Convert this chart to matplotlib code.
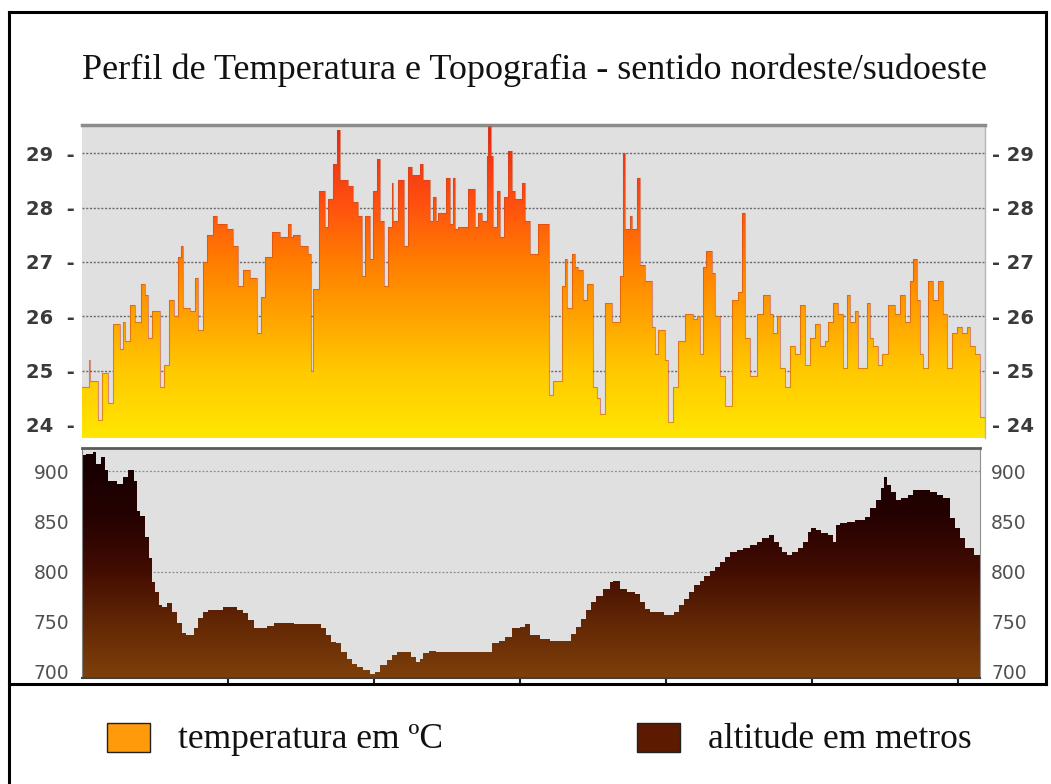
import numpy as np
import matplotlib.pyplot as plt
from matplotlib.colors import LinearSegmentedColormap
from matplotlib.lines import Line2D
from matplotlib.patches import Rectangle

temp_dist = [0, 7, 8, 16, 20, 26, 31, 38, 41, 43, 48, 53, 59, 63, 66, 70, 78, 82, 87, 92,
             96, 99, 101, 108, 113, 116, 121, 125, 131, 135, 145, 151, 156, 161, 168, 175, 179, 183, 190, 198,
             206, 209, 211, 218, 226, 229, 231, 237, 243, 246, 251, 255, 258, 266, 271, 276, 280, 283, 288, 291,
             295, 298, 302, 306, 310, 311, 316, 322, 326, 330, 338, 341, 348, 351, 354, 356, 364, 368, 371, 373,
             376, 386, 393, 396, 400, 405, 406, 409, 411, 415, 418, 422, 426, 430, 433, 440, 443, 448, 456, 467,
             471, 480, 483, 485, 490, 493, 496, 501, 505, 511, 515, 518, 523, 530, 538, 541, 543, 548, 550, 555,
             558, 563, 570, 573, 576, 583, 586, 591, 596, 603, 611, 615, 618, 621, 624, 630, 633, 638, 643, 650,
             656, 660, 663, 668, 675, 681, 688, 691, 695, 698, 703, 708, 713, 718, 723, 728, 733, 738, 743, 746,
             751, 756, 761, 765, 768, 773, 776, 785, 788, 791, 796, 800, 806, 813, 818, 823, 828, 831, 835, 838,
             841, 846, 851, 856, 861, 865, 870, 875, 880, 885, 888, 893, 898]
temp_c = [24.7, 25.2, 24.8, 24.1, 24.95, 24.4, 25.85, 25.4, 25.9, 25.55, 26.2, 25.9, 26.6, 26.4, 25.6, 26.1, 24.7, 25.1, 26.3, 26.0,
          27.1, 27.3, 26.15, 26.1, 26.7, 25.75, 27.0, 27.5, 27.85, 27.7, 27.6, 27.3, 26.55, 26.85, 26.7, 25.7, 26.35, 27.1, 27.55, 27.45,
          27.7, 27.45, 27.5, 27.3, 27.15, 25.0, 26.5, 28.3, 27.65, 28.15, 28.8, 29.43, 28.5, 28.4, 28.1, 27.85, 26.75, 27.85, 27.05, 28.3,
          28.9, 27.75, 26.55, 27.65, 28.45, 27.75, 28.5, 27.3, 28.75, 28.6, 28.8, 28.5, 27.75, 28.2, 27.75, 27.9, 28.55, 27.7, 28.55, 27.6,
          27.65, 28.35, 27.65, 27.9, 27.75, 28.95, 29.5, 28.95, 27.65, 28.3, 27.45, 28.2, 29.05, 28.3, 28.15, 28.45, 27.75, 27.15, 27.7, 24.55,
          24.8, 26.55, 27.05, 26.15, 27.15, 26.9, 26.85, 26.3, 26.6, 24.7, 24.5, 24.2, 26.25, 25.9, 26.75, 29.0, 27.6, 27.85, 27.6, 28.55,
          26.95, 26.65, 25.8, 25.3, 25.75, 25.2, 24.05, 24.7, 25.55, 26.05, 25.95, 26.0, 25.3, 26.9, 27.2, 26.8, 26.0, 24.9, 24.35, 26.3,
          26.45, 27.9, 25.6, 24.9, 26.05, 26.4, 26.05, 25.7, 26.0, 25.05, 24.7, 25.45, 25.3, 26.2, 25.1, 25.6, 25.85, 25.45, 25.55, 25.9,
          26.25, 26.05, 25.05, 26.4, 25.9, 26.1, 25.05, 26.25, 25.6, 25.45, 25.1, 25.3, 26.2, 26.05, 26.4, 25.9, 26.65, 27.05, 26.3, 25.3,
          25.05, 26.65, 26.3, 26.65, 26.05, 25.05, 25.7, 25.8, 25.7, 25.8, 25.45, 25.3, 24.15]
temp_end = 903

alt_dist = [0, 4, 11, 14, 19, 23, 26, 35, 41, 46, 52, 55, 58, 63, 67, 70, 73, 77, 80, 85,
            90, 95, 100, 104, 112, 116, 121, 126, 141, 155, 161, 166, 172, 185, 192, 212, 239, 244, 249, 254,
            259, 265, 270, 275, 281, 288, 293, 298, 305, 310, 315, 329, 334, 338, 341, 347, 354, 378, 398, 410,
            417, 423, 430, 438, 443, 448, 458, 468, 489, 494, 499, 504, 509, 514, 521, 528, 531, 538, 545, 553,
            558, 563, 568, 582, 592, 597, 602, 607, 612, 618, 622, 628, 633, 638, 643, 648, 655, 661, 668, 675,
            680, 687, 692, 697, 700, 705, 710, 716, 721, 726, 729, 734, 739, 746, 751, 754, 758, 765, 773, 783,
            788, 794, 799, 802, 805, 809, 814, 819, 826, 831, 848, 855, 861, 868, 873, 878, 883, 892]
alt_m = [915.7, 917, 919, 907, 914, 900.7, 890.6, 887, 894, 900.7, 890.6, 860.5, 855.5, 834, 813.7, 790, 780, 767, 765, 768.5,
         760, 748.5, 738.5, 737, 743.5, 753.5, 760, 762, 765, 762, 758.5, 752, 743.5, 746, 748.5, 747.5, 743.5, 737, 730, 728.4,
         720, 713.4, 708.4, 705, 701.7, 698, 700, 706.7, 711.7, 716.7, 720, 715, 710, 713, 718.5, 720.7, 720, 719.4, 720, 728.4,
         730.8, 735, 743.5, 745, 748, 736.5, 733, 730.6, 738, 745, 753, 761.5, 770, 776, 783, 790, 791, 783, 780, 778,
         770, 763, 760, 756.5, 760, 766.5, 773, 780, 786.5, 791, 796, 801, 804.7, 809.6, 814.6, 819.6, 821, 823, 826, 829.6,
         833, 836, 829.6, 824.6, 819.6, 816, 819.6, 823, 829.6, 839.5, 843.5, 841, 838, 836, 829.6, 846, 848, 849.5, 851, 854.5,
         863, 871, 882.7, 894.4, 886, 879.4, 871, 873, 876, 881, 879.4, 876, 873, 853, 843, 833, 823, 816]
alt_end = 898

temp_ticks = [24, 25, 26, 27, 28, 29]
alt_ticks = [700, 750, 800, 850, 900]
dist_ticks = [146, 292, 438, 584, 730, 876]

titulo = "Perfil de Temperatura e Topografia - sentido nordeste/sudoeste"
legenda = ["temperatura em ºC", "altitude em metros"]

W, H = 1051, 784
fig = plt.figure(figsize=(W / 100, H / 100), dpi=100)


def box(l, t, r, b):
    return [l / W, 1 - b / H, (r - l) / W, (b - t) / H]


def gradient_fill(ax, dist, vals, end, ylim, cmap):
    x = np.array(dist + [end])
    y = np.array(vals + [vals[-1]])
    poly = ax.fill_between(x, ylim[0], y, step='post', facecolor='none', edgecolor='none')
    grad = np.linspace(ylim[0], ylim[1], 256).reshape(-1, 1)
    im = ax.imshow(grad, extent=[0, end, ylim[0], ylim[1]], origin='lower',
                   aspect='auto', cmap=cmap, zorder=2)
    im.set_clip_path(poly.get_paths()[0], transform=ax.transData)
    ax.set_xlim(0, end)
    ax.set_ylim(*ylim)
    return x, y


# painel de temperatura
ax1 = fig.add_axes(box(82, 125, 985, 438))
ax1.set_facecolor('#e0e0e0')
t_lim = (23.76, 29.52)
cmap_t = LinearSegmentedColormap.from_list('temp', [
    (0.0, '#ffe600'), (0.22, '#ffc800'), (0.40, '#ffa000'),
    (0.57, '#ff7c00'), (0.75, '#ff5010'), (1.0, '#e82418')])
x, y = gradient_fill(ax1, temp_dist, temp_c, temp_end, t_lim, cmap_t)
ax1.step(x, y, where='post', color='#c8481e', lw=0.8, alpha=0.55, zorder=3)
ax1.set_yticks(temp_ticks)
ax1.set_yticklabels([f"{v}  -" for v in temp_ticks])
ax1.set_xticks([])
ax1.grid(axis='y', color='#6a6a6a', linestyle=(0, (1.5, 1.2)), lw=1.0, zorder=0)
ax1.set_axisbelow(True)
ax1.tick_params(axis='y', length=0, pad=5, labelsize=14, labelcolor='#3a3a3a')
for lab in ax1.get_yticklabels():
    lab.set_fontweight('bold')
for s in ['left', 'bottom']:
    ax1.spines[s].set_visible(False)
ax1.spines['top'].set_color('#8c8c8c')
ax1.spines['top'].set_linewidth(2.5)
ax1.spines['right'].set_color('#b4b4b4')
ax1.spines['right'].set_linewidth(1)
sec1 = ax1.secondary_yaxis('right')
sec1.set_yticks(temp_ticks)
sec1.set_yticklabels([f"- {v}" for v in temp_ticks])
sec1.tick_params(length=0, pad=5, labelsize=14, labelcolor='#3a3a3a')
for lab in sec1.get_yticklabels():
    lab.set_fontweight('bold')
sec1.spines['right'].set_visible(False)

# painel de altitude
ax2 = fig.add_axes(box(82, 448, 980, 678))
ax2.set_facecolor('#e0e0e0')
a_lim = (694, 923)
cmap_a = LinearSegmentedColormap.from_list('alt', [
    (0.0, '#7e400a'), (0.25, '#612605'), (0.47, '#420c01'),
    (0.70, '#260202'), (1.0, '#140000')])
gradient_fill(ax2, alt_dist, alt_m, alt_end, a_lim, cmap_a)
ax2.set_yticks(alt_ticks)
ax2.set_xticks(dist_ticks)
ax2.set_xticklabels([])
for g in [800, 900]:
    ax2.axhline(g, color='#8a8a8a', linestyle=(0, (1.5, 1.5)), lw=0.9, zorder=1)
ax2.tick_params(axis='y', length=0, pad=9, labelsize=13.5, labelcolor='#505050')
ax2.tick_params(axis='x', length=4, width=1.5, color='#202020', direction='out')
ax2.spines['top'].set_color('#5a5a5a')
ax2.spines['top'].set_linewidth(2)
ax2.spines['bottom'].set_color('#404040')
ax2.spines['bottom'].set_linewidth(1.5)
ax2.spines['left'].set_color('#808080')
ax2.spines['right'].set_color('#909090')
sec2 = ax2.secondary_yaxis('right')
sec2.set_yticks(alt_ticks)
sec2.tick_params(length=0, pad=8, labelsize=13.5, labelcolor='#505050')
sec2.spines['right'].set_visible(False)

# titulo e legenda
fig.text(535 / W, 1 - 70 / H, titulo, ha='center', va='center',
         family='Liberation Serif', fontsize=26, color='#111111')
leg_colors = ['#ff9a0a', '#5c1a00']
leg_x = [107, 637]
for lx, cor, txt in zip(leg_x, leg_colors, legenda):
    fig.add_artist(Rectangle((lx / W, 1 - 752 / H), 43 / W, 29 / H,
                             transform=fig.transFigure, facecolor=cor,
                             edgecolor='#222222', lw=1))
    fig.text((lx + 71) / W, 1 - 739 / H, txt, ha='left', va='center',
             family='Liberation Serif', fontsize=25.5, color='#111111')

# moldura
frame_kw = dict(transform=fig.transFigure, color='black')
fig.add_artist(Line2D([9 / W, 9 / W], [0, 1 - 12 / H], lw=2.2, **frame_kw))
fig.add_artist(Line2D([9 / W, 1046 / W], [1 - 12 / H, 1 - 12 / H], lw=2.2, **frame_kw))
fig.add_artist(Line2D([1046 / W, 1046 / W], [1 - 12 / H, 1 - 684 / H], lw=2.2, **frame_kw))
fig.add_artist(Line2D([9 / W, 1046 / W], [1 - 684 / H, 1 - 684 / H], lw=2.2, **frame_kw))

fig.savefig('out.png', dpi=100)
